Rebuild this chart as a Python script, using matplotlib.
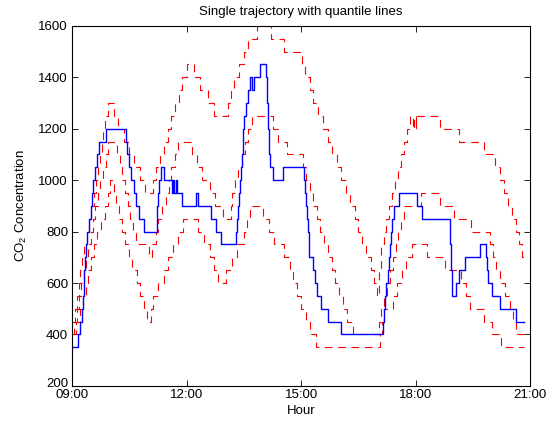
import matplotlib
matplotlib.use('Agg')
import matplotlib.pyplot as plt
from matplotlib.transforms import ScaledTranslation

plt.rcParams['font.family'] = ['Liberation Sans', 'DejaVu Sans']
plt.rcParams['mathtext.fontset'] = 'custom'
plt.rcParams['mathtext.rm'] = 'Liberation Sans'
plt.rcParams['mathtext.it'] = 'Liberation Sans:italic'
plt.rcParams['mathtext.default'] = 'regular'

# ---- data (hour of day, CO2 concentration) ----
blue_t = [9.00, 9.14, 9.20, 9.25, 9.27, 9.30, 9.32, 9.34, 9.36, 9.39, 9.44, 9.48, 9.51, 9.55, 9.60, 9.66, 9.69,
          9.88, 10.40, 10.44, 10.50, 10.54, 10.63, 10.66, 10.75, 10.89, 11.21, 11.23, 11.24, 11.28, 11.34, 11.40,
          11.61, 11.64, 11.68, 11.72, 11.75, 11.88, 12.24, 12.29, 12.63, 12.76, 12.89, 13.29, 13.31, 13.34, 13.37,
          13.40, 13.42, 13.44, 13.47, 13.48, 13.51, 13.55, 13.60, 13.66, 13.72, 13.76, 13.93, 14.08, 14.10, 14.12,
          14.15, 14.18, 14.27, 14.52, 15.07, 15.10, 15.13, 15.15, 15.17, 15.20, 15.21, 15.32, 15.36, 15.42, 15.51,
          15.71, 16.04, 17.14, 17.17, 17.20, 17.22, 17.27, 17.30, 17.33, 17.36, 17.38, 17.44, 17.57, 18.03, 18.16,
          18.89, 18.92, 18.96, 19.06, 19.15, 19.30, 19.69, 19.84, 19.87, 19.91, 19.99, 20.21, 20.63, 20.83]
blue_v = [350, 400, 450, 500, 550, 600, 650, 700, 750, 800, 850, 900, 950, 1000, 1050, 1100, 1150,
          1200, 1150, 1100, 1050, 1000, 950, 900, 850, 800, 850, 900, 950, 1000, 1050, 1000,
          950, 1000, 950, 1000, 950, 900, 950, 900, 850, 800, 750, 800, 850, 900, 950,
          1000, 1050, 1100, 1150, 1200, 1250, 1300, 1350, 1400, 1350, 1400, 1450, 1400, 1300, 1200,
          1100, 1050, 1000, 1050, 1000, 950, 900, 850, 800, 750, 700, 650, 600, 550, 500,
          450, 400, 450, 500, 550, 600, 650, 700, 750, 800, 850, 900, 950, 900, 850,
          750, 650, 550, 600, 650, 700, 750, 700, 650, 600, 550, 500, 450, 450]

upper_t = [9.00, 9.07, 9.12, 9.17, 9.20, 9.25, 9.32, 9.38, 9.45, 9.50, 9.58, 9.63, 9.68, 9.73, 9.77, 9.82, 9.87,
           9.94, 10.10, 10.20, 10.35, 10.50, 10.62, 10.77, 10.90, 11.12, 11.20, 11.30, 11.40, 11.50, 11.60, 11.70,
           11.80, 11.88, 12.00, 12.20, 12.35, 12.55, 12.72, 13.08, 13.15, 13.25, 13.38, 13.50, 13.62, 13.85, 14.22,
           14.55, 15.02, 15.10, 15.22, 15.32, 15.45, 15.58, 15.70, 15.82, 15.95, 16.05, 16.18, 16.28, 16.40, 16.50,
           16.60, 16.70, 16.82, 16.92, 17.00, 17.05, 17.10, 17.17, 17.22, 17.30, 17.38, 17.47, 17.55, 17.62, 17.70,
           17.78, 17.85, 17.93, 17.95, 18.00, 18.02, 18.65, 19.15, 19.80, 20.08, 20.22, 20.33, 20.43, 20.53, 20.63,
           20.72, 20.78, 20.83]
upper_v = [450, 500, 550, 600, 650, 700, 750, 800, 850, 900, 950, 1000, 1050, 1100, 1150, 1200, 1250,
           1300, 1250, 1200, 1150, 1100, 1050, 1000, 950, 1000, 1050, 1100, 1150, 1200, 1250, 1300,
           1350, 1400, 1450, 1400, 1350, 1300, 1250, 1300, 1350, 1400, 1450, 1500, 1550, 1600, 1550,
           1500, 1450, 1400, 1350, 1300, 1250, 1200, 1150, 1100, 1050, 1000, 950, 900, 850, 800,
           750, 700, 650, 600, 550, 650, 750, 800, 850, 900, 950, 1000, 1050, 1100, 1150,
           1200, 1250, 1200, 1250, 1200, 1250, 1200, 1150, 1100, 1050, 1000, 950, 900, 850, 800,
           750, 700, 700]

median_t = [9.00, 9.05, 9.12, 9.18, 9.23, 9.30, 9.35, 9.42, 9.48, 9.55, 9.60, 9.67, 9.73, 9.80, 9.88, 9.95,
            10.18, 10.25, 10.30, 10.38, 10.45, 10.52, 10.60, 10.68, 11.00, 11.10, 11.20, 11.25, 11.35, 11.45,
            11.55, 11.60, 11.70, 11.78, 12.15, 12.28, 12.40, 12.60, 12.75, 12.95, 13.15, 13.20, 13.27, 13.35,
            13.45, 13.52, 13.62, 13.72, 14.25, 14.40, 14.62, 15.05, 15.12, 15.22, 15.30, 15.42, 15.50, 15.60,
            15.70, 15.80, 15.90, 16.00, 16.10, 16.20, 16.35, 17.05, 17.10, 17.17, 17.25, 17.33, 17.40, 17.48,
            17.55, 17.62, 17.70, 18.15, 18.65, 19.00, 19.45, 19.95, 20.02, 20.10, 20.22, 20.35, 20.47, 20.56,
            20.62, 20.83]
median_v = [400, 450, 500, 550, 600, 650, 700, 750, 800, 850, 900, 950, 1000, 1050, 1100, 1150,
            1100, 1050, 1000, 950, 900, 850, 800, 750, 700, 750, 800, 850, 900, 950,
            1000, 1050, 1100, 1150, 1100, 1050, 1000, 950, 900, 850, 900, 950, 1000, 1050,
            1100, 1150, 1200, 1250, 1200, 1150, 1100, 1050, 1000, 950, 900, 850, 800, 750,
            700, 650, 600, 550, 500, 450, 400, 450, 500, 550, 600, 650, 700, 750,
            800, 850, 900, 950, 900, 850, 800, 750, 700, 650, 600, 550, 500, 450,
            400, 400]

lower_t = [9.00, 9.10, 9.20, 9.28, 9.35, 9.42, 9.50, 9.58, 9.65, 9.75, 9.85, 9.93, 10.00, 10.10, 10.15, 10.22,
           10.30, 10.38, 10.48, 10.58, 10.70, 10.78, 10.88, 10.97, 11.07, 11.13, 11.25, 11.40, 11.50, 11.65,
           11.77, 11.90, 12.30, 12.45, 12.60, 12.72, 12.82, 13.02, 13.18, 13.32, 13.50, 13.58, 13.65, 14.00,
           14.15, 14.30, 14.55, 14.70, 14.80, 14.90, 15.00, 15.12, 15.22, 15.40, 17.08, 17.12, 17.18, 17.40,
           17.52, 17.65, 17.75, 17.90, 18.30, 18.78, 19.20, 19.32, 19.42, 19.80, 20.00, 20.25, 20.83]
lower_v = [400, 450, 500, 550, 600, 650, 700, 750, 800, 850, 900, 950, 1000, 950, 900, 850,
           800, 750, 700, 650, 600, 550, 500, 450, 500, 550, 600, 650, 700, 750,
           800, 850, 800, 750, 700, 650, 600, 650, 700, 750, 800, 850, 900, 850,
           800, 750, 700, 650, 600, 550, 500, 450, 400, 350, 400, 450, 500, 550,
           600, 650, 700, 750, 700, 650, 600, 550, 500, 450, 400, 350, 350]

xtick_pos = [9, 12, 15, 18, 21]
xtick_labels = ['09:00', '12:00', '15:00', '18:00', '21:00']
ytick_pos = [200, 400, 600, 800, 1000, 1200, 1400, 1600]

# ---- figure ----
fig = plt.figure(figsize=(5.47, 4.25), dpi=100)
ax = fig.add_axes([0.132, 0.092, 0.837, 0.847])

dash = (0, (7, 5))
for t, v in [(upper_t, upper_v), (median_t, median_v), (lower_t, lower_v)]:
    ax.step(t, v, where='post', color='#ff0000', lw=0.8, linestyle=dash)
ax.step(blue_t, blue_v, where='post', color='#0000ff', lw=1.0)

ax.set_xlim(9, 21)
ax.set_ylim(200, 1600)
ax.set_xticks(xtick_pos)
ax.set_xticklabels(xtick_labels)
ax.set_yticks(ytick_pos)
ax.tick_params(direction='in', top=True, right=True, length=4, width=0.6,
               labelsize=9.5, colors='black')
ax.tick_params(axis='x', pad=2)
ax.tick_params(axis='y', pad=3)
for s in ax.spines.values():
    s.set_linewidth(0.8)

# lift the lowest y tick label slightly so it does not run into "09:00"
fig.canvas.draw()
lbl = ax.get_yticklabels()[0]
lbl.set_transform(lbl.get_transform() + ScaledTranslation(0, 2.5 / 72, fig.dpi_scale_trans))

ax.set_title('Single trajectory with quantile lines', fontsize=9.5, pad=8)
ax.set_xlabel('Hour', fontsize=9.5, labelpad=3)
ax.set_ylabel('CO$_2$ Concentration', fontsize=9.5, labelpad=7)

fig.savefig('out.png', dpi=100)
